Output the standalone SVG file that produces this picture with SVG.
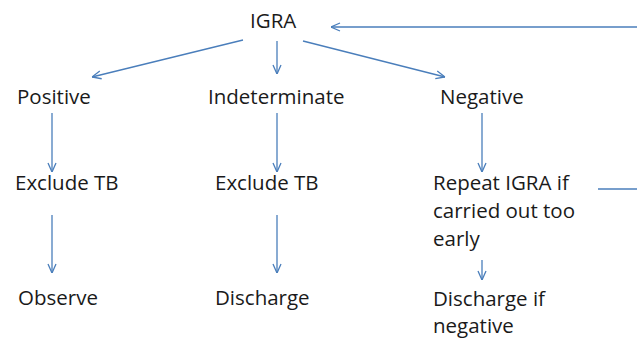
<svg xmlns="http://www.w3.org/2000/svg" width="637" height="338" viewBox="0 0 637 338">
<style>
text{font-family:"Open Sans","Liberation Sans",sans-serif;font-size:20.5px;fill:#1a1a1a}
.c line,.c path{stroke:#4a7ebb;stroke-width:1.3;fill:none}
</style>
<defs>
<marker id="a" viewBox="0 0 10 10" refX="10" refY="5" markerWidth="10" markerHeight="10" markerUnits="userSpaceOnUse" orient="auto">
<path d="M1,1 L10,5 L1,9" fill="none" stroke="#4a7ebb" stroke-width="1.3"/>
</marker>
</defs>
<rect width="637" height="338" fill="#fff"/>
<g id="igra"><text x="250" y="28">IGRA</text></g>
<g id="positive"><text x="17" y="104">Positive</text></g>
<g id="indeterminate"><text x="208" y="104">Indeterminate</text></g>
<g id="negative"><text x="440" y="104">Negative</text></g>
<g id="exclude1"><text x="15" y="190">Exclude TB</text></g>
<g id="exclude2"><text x="215" y="190">Exclude TB</text></g>
<g id="repeat"><text x="433" y="190">Repeat IGRA if</text><text x="433" y="218">carried out too</text><text x="433" y="246">early</text></g>
<g id="observe"><text x="18" y="305">Observe</text></g>
<g id="discharge"><text x="215" y="305">Discharge</text></g>
<g id="discharge2"><text x="433" y="306">Discharge if</text><text x="433" y="333">negative</text></g>
<g class="c" id="connectors">
<line x1="243" y1="40" x2="92" y2="77" marker-end="url(#a)"/>
<line x1="277" y1="41" x2="277" y2="74" marker-end="url(#a)"/>
<line x1="303" y1="41" x2="445" y2="77" marker-end="url(#a)"/>
<line x1="637" y1="27" x2="331" y2="27" marker-end="url(#a)"/>
<line x1="598" y1="189" x2="637" y2="189"/>
<line x1="52" y1="113" x2="52" y2="172" marker-end="url(#a)"/>
<line x1="52" y1="215" x2="52" y2="273" marker-end="url(#a)"/>
<line x1="277" y1="113" x2="277" y2="172" marker-end="url(#a)"/>
<line x1="277" y1="215" x2="277" y2="273" marker-end="url(#a)"/>
<line x1="482" y1="113" x2="482" y2="172" marker-end="url(#a)"/>
<line x1="482" y1="260" x2="482" y2="280" marker-end="url(#a)"/>
</g>
</svg>
